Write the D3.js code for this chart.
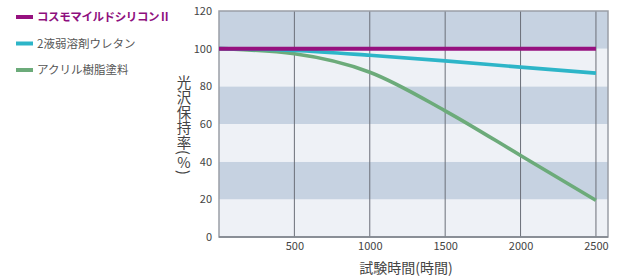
<!DOCTYPE html>
<html><head><meta charset="utf-8">
<script src="https://cdn.jsdelivr.net/npm/d3@7"></script>
<style>body{margin:0;background:#fff}svg{display:block}text{font-family:"Noto Sans CJK JP","Noto Sans",sans-serif}</style>
</head><body><svg id="c" width="618" height="280"></svg>
<script>
const seriesNames = ["コスモマイルドシリコンⅡ", "2液弱溶剤ウレタン", "アクリル樹脂塗料"];
const seriesColors = ["#96117f", "#2db5c8", "#6cab7a"];
const hours = [0, 500, 1000, 1500, 2000, 2500];
const silicone = [100, 100, 100, 100, 100, 100];
const urethane = [100, 99, 96.5, 93.5, 90.2, 87];
const acrylic = [100, 97.3, 87.5, 67, 43.3, 19.5];
const xTicks = [500, 1000, 1500, 2000, 2500];
const yTicks = [0, 20, 40, 60, 80, 100, 120];
const yTitle = ["光沢保持率(", "%", ")"];
const xTitle = "試験時間(時間)";

const svg = d3.select("#c");
const L = 219, R = 608, T = 11, B = 237;
const x = d3.scaleLinear().domain([0, 2580]).range([L, R]);
const y = d3.scaleLinear().domain([0, 120]).range([B, T]);

// bands
for (let i = 0; i < yTicks.length - 1; i++) {
  const lo = yTicks[i], hi = yTicks[i + 1];
  svg.append("rect").attr("x", L).attr("width", R - L)
    .attr("y", y(hi)).attr("height", y(lo) - y(hi))
    .attr("fill", (i % 2 === 1) ? "#c6d2e1" : "#eef1f6");
}
// vertical grid
svg.selectAll(".vg").data(xTicks).join("line")
  .attr("x1", d => x(d)).attr("x2", d => x(d)).attr("y1", T).attr("y2", B)
  .attr("stroke", "#6b6f78").attr("stroke-width", 1);
// border
svg.append("rect").attr("x", L).attr("y", T).attr("width", R - L).attr("height", B - T)
  .attr("fill", "none").attr("stroke", "#9a9ea6").attr("stroke-width", 1.5);
svg.append("line").attr("x1", L).attr("x2", R).attr("y1", B).attr("y2", B).attr("stroke", "#7d828a").attr("stroke-width", 1.5);

// axes tick labels
const xAxis = d3.axisBottom(x).tickValues(xTicks).tickFormat(d3.format("d")).tickSize(0).tickPadding(5);
const gx = svg.append("g").attr("transform", `translate(0,${B})`).call(xAxis);
gx.select(".domain").remove();
gx.selectAll("text").attr("font-size", 11).attr("fill", "#444").attr("font-family", "Noto Sans CJK JP");
const yAxis = d3.axisLeft(y).tickValues(yTicks).tickFormat(d3.format("d")).tickSize(0).tickPadding(7);
const gy = svg.append("g").attr("transform", `translate(${L},0)`).call(yAxis);
gy.select(".domain").remove();
gy.selectAll("text").attr("font-size", 11).attr("fill", "#444").attr("font-family", "Noto Sans CJK JP");

// lines
const data = [silicone, urethane, acrylic];
const line = d3.line().x((d, i) => x(hours[i])).y(d => y(d)).curve(d3.curveMonotoneX);
[2, 1, 0].forEach(k => {
  svg.append("path").attr("d", line(data[k])).attr("fill", "none")
    .attr("stroke", seriesColors[k]).attr("stroke-width", k === 0 ? 4 : 3.6);
});

// legend
seriesNames.forEach((n, i) => {
  const ly = 17 + i * 26.5;
  svg.append("line").attr("x1", 16).attr("x2", 33).attr("y1", ly).attr("y2", ly)
    .attr("stroke", seriesColors[i]).attr("stroke-width", 4);
  svg.append("text").attr("x", 37).attr("y", ly).attr("dy", "0.36em")
    .attr("font-size", 11.5).attr("font-weight", i === 0 ? "bold" : "normal")
    .attr("letter-spacing", i === 0 ? -0.4 : 0)
    .attr("fill", i === 0 ? "#8e0f7e" : "#555").text(n);
});

// y title vertical (single text element)
const yt = svg.append("text").attr("x", 184).attr("y", 75)
  .style("writing-mode", "vertical-rl").style("text-orientation", "mixed")
  .attr("font-size", 14.5).attr("fill", "#444").attr("letter-spacing", 0.5);
yt.append("tspan").text(yTitle[0]);
yt.append("tspan").style("text-orientation", "upright").text(yTitle[1]);
yt.append("tspan").text(yTitle[2]);
// x title
svg.append("text").attr("x", 406).attr("y", 268).attr("dy", "0.36em").attr("text-anchor", "middle")
  .attr("font-size", 14).attr("fill", "#444").text(xTitle);
</script></body></html>
